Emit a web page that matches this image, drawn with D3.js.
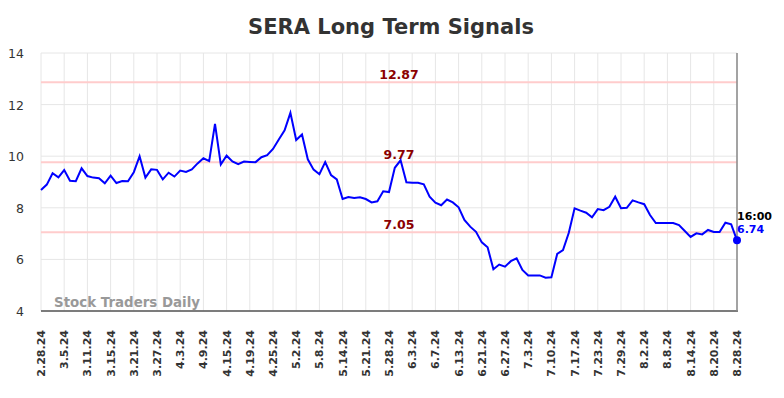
<!DOCTYPE html>
<meta charset="utf-8">
<script src="https://cdn.jsdelivr.net/npm/d3@7"></script>
<style>
    body { margin: 0; background: #fff; }
    svg { font-family: "DejaVu Sans", sans-serif; }
</style>
<div id="chart"></div>
<script>
    // one value per trading day, 2.28.24 .. 8.28.24
    var values = [
        8.69, 8.90, 9.34, 9.18, 9.46, 9.05, 9.03, 9.53, 9.23, 9.17,
        9.15, 8.95, 9.25, 8.96, 9.04, 9.03, 9.38, 10.00, 9.17, 9.49,
        9.47, 9.10, 9.36, 9.21, 9.44, 9.39, 9.49, 9.72, 9.92, 9.81,
        11.25, 9.68, 10.02, 9.80, 9.69, 9.79, 9.78, 9.77, 9.96, 10.04,
        10.28, 10.65, 11.00, 11.68, 10.63, 10.84, 9.88, 9.48, 9.30, 9.77,
        9.27, 9.10, 8.34, 8.42, 8.38, 8.41, 8.34, 8.21, 8.25, 8.64,
        8.61, 9.55, 9.84, 8.99, 8.97, 8.97, 8.91, 8.43, 8.20, 8.10,
        8.32, 8.21, 8.02, 7.53, 7.27, 7.07, 6.66, 6.47, 5.62, 5.80,
        5.72, 5.93, 6.04, 5.59, 5.38, 5.38, 5.38, 5.29, 5.31, 6.21,
        6.36, 7.03, 7.98, 7.89, 7.81, 7.63, 7.95, 7.91, 8.04, 8.43,
        7.98, 8.00, 8.29, 8.21, 8.14, 7.72, 7.41, 7.41, 7.41, 7.41,
        7.33, 7.10, 6.87, 7.01, 6.97, 7.14, 7.06, 7.06, 7.42, 7.36,
        6.74
    ];
    // a label every 4th trading day
    var tickLabels = ["2.28.24", "3.5.24", "3.11.24", "3.15.24", "3.21.24", "3.27.24",
        "4.3.24", "4.9.24", "4.15.24", "4.19.24", "4.25.24", "5.2.24", "5.8.24",
        "5.14.24", "5.21.24", "5.28.24", "6.3.24", "6.7.24", "6.13.24", "6.21.24",
        "6.27.24", "7.3.24", "7.10.24", "7.17.24", "7.23.24", "7.29.24", "8.2.24",
        "8.8.24", "8.14.24", "8.20.24", "8.28.24"];
    var tickStep = 4;
    var levels = [12.87, 9.77, 7.05];
    var yTicks = [4, 6, 8, 10, 12, 14];
    var lastTime = "16:00";

    var width = 784, height = 398,
        plotL = 41, plotR = 737, plotT = 53, plotB = 311;

    var svg = d3.select("#chart").append("svg")
        .attr("width", width).attr("height", height);

    var x = d3.scaleLinear().domain([0, values.length - 1]).range([plotL, plotR]),
        y = d3.scaleLinear().domain([4, 14]).range([plotB, plotT]);

    svg.append("text").attr("x", 391).attr("y", 34)
        .attr("text-anchor", "middle").attr("font-size", 21).attr("font-weight", "bold")
        .attr("fill", "#333").text("SERA Long Term Signals");

    // grid
    var tickIdx = tickLabels.map(function(d, i) { return i * tickStep; });
    svg.append("g").selectAll("line").data(tickIdx).enter().append("line")
        .attr("x1", x).attr("x2", x).attr("y1", plotT).attr("y2", plotB)
        .attr("stroke", "#e6e6e6").attr("stroke-width", 1);
    svg.append("g").selectAll("line").data(yTicks).enter().append("line")
        .attr("x1", plotL).attr("x2", plotR).attr("y1", y).attr("y2", y)
        .attr("stroke", "#e6e6e6").attr("stroke-width", 1);

    // y labels
    svg.append("g").selectAll("text").data(yTicks).enter().append("text")
        .attr("x", 24).attr("y", function(d) { return y(d) + 5; })
        .attr("text-anchor", "end").attr("font-size", 12.5).attr("fill", "#333")
        .text(function(d) { return d; });

    // x labels
    svg.append("g").selectAll("text").data(tickLabels).enter().append("text")
        .attr("transform", function(d, i) { return "translate(" + (x(i * tickStep) + 4) + ",330) rotate(-90)"; })
        .attr("text-anchor", "end").attr("font-size", 11).attr("font-weight", "bold").attr("fill", "#333")
        .text(function(d) { return d; });

    // signal levels
    svg.append("g").selectAll("line").data(levels).enter().append("line")
        .attr("x1", plotL).attr("x2", plotR).attr("y1", y).attr("y2", y)
        .attr("stroke", "#ffcccc").attr("stroke-width", 2);
    svg.append("g").selectAll("text").data(levels).enter().append("text")
        .attr("x", 399).attr("y", function(d) { return y(d) - 3; })
        .attr("text-anchor", "middle").attr("font-size", 12.5).attr("font-weight", "bold")
        .attr("fill", "#8b0000").text(function(d) { return d.toFixed(2); });

    // axes frame
    svg.append("line").attr("x1", plotL).attr("x2", plotR + 1).attr("y1", plotB).attr("y2", plotB)
        .attr("stroke", "#555").attr("stroke-width", 1.5);
    svg.append("line").attr("x1", plotR).attr("x2", plotR).attr("y1", plotT).attr("y2", plotB)
        .attr("stroke", "#888").attr("stroke-width", 1.5);

    svg.append("text").attr("x", 54).attr("y", 307)
        .attr("font-size", 13.4).attr("font-weight", "bold").attr("fill", "#999")
        .text("Stock Traders Daily");

    var line = d3.line().x(function(d, i) { return x(i); }).y(function(d) { return y(d); });
    svg.append("path").datum(values).attr("d", line)
        .attr("fill", "none").attr("stroke", "#0000ff").attr("stroke-width", 2);

    var n = values.length - 1;
    svg.append("circle").attr("cx", x(n)).attr("cy", y(values[n])).attr("r", 4).attr("fill", "#0000ff");
    svg.append("text").attr("x", x(n)).attr("y", y(values[n]) - 20)
        .attr("font-size", 11).attr("font-weight", "bold").attr("fill", "#000").text(lastTime);
    svg.append("text").attr("x", x(n)).attr("y", y(values[n]) - 7)
        .attr("font-size", 11).attr("font-weight", "bold").attr("fill", "#0000ff").text(values[n].toFixed(2));
</script>
